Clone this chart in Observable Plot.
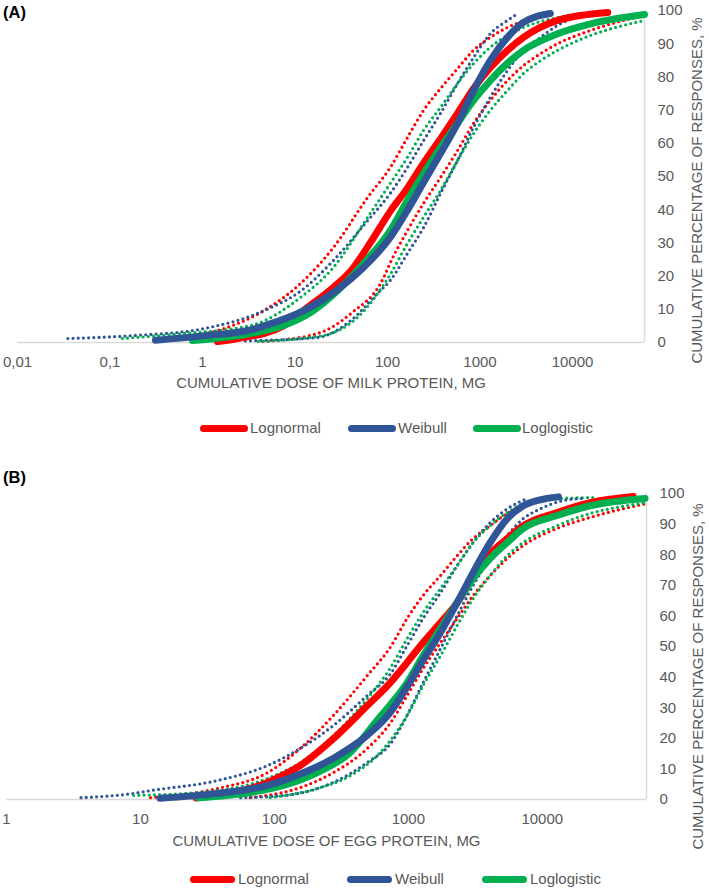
<!DOCTYPE html>
<html><head><meta charset="utf-8">
<script src="https://cdn.jsdelivr.net/npm/d3@7"></script>
<script src="https://cdn.jsdelivr.net/npm/@observablehq/plot@0.6"></script>
<style>
body{margin:0;background:#fff;font-family:"Liberation Sans",Arial,sans-serif;}
#wrap{position:relative;width:709px;height:891px;overflow:hidden;background:#fff;}
#wrap svg{position:absolute;left:0;}
.panel{position:absolute;left:3px;font-weight:bold;font-size:16.5px;line-height:16px;color:#000;}
.sw{position:absolute;height:7px;border-radius:3.5px;}
.lt{position:absolute;font-size:15px;line-height:16px;color:#595959;white-space:nowrap;}
</style></head><body><div id="wrap"></div>
<script>
// ---------- data (dose in mg, cumulative % of responses) ----------
const seriesNames = ["Lognormal", "Weibull", "Loglogistic"];
const seriesColors = ["#FF0000", "#2F5597", "#00B050"];
const yTicks = [0, 10, 20, 30, 40, 50, 60, 70, 80, 90, 100];
const yTitle = "CUMULATIVE PERCENTAGE OF RESPONSES, %";
const X_MAX = 60000;

// Panel A: milk
const milkTitle = "CUMULATIVE DOSE OF MILK PROTEIN, MG";
const milkTicks = [0.01, 0.1, 1, 10, 100, 1000, 10000];
const milkTickLabels = ["0,01", "0,1", "1", "10", "100", "1000", "10000"];
const milkLogn = [[1.45,0.3],[2.4,1.2],[7.5,5],[13.6,10.5],[26,16.6],[40,21.5],[65,30],[107,39.5],[164,46.5],[245,54],[374,61.4],[571,69],[851,76.5],[1290,82.8],[1980,88],[2950,91.9],[6900,97],[24000,99.4]];
const milkLognLo = [[4.5,0.3],[17.5,2.7],[40,8.7],[91,19.6],[107,24],[164,33.7],[245,41.9],[374,49.7],[571,57.8],[851,66],[1290,72.9],[1980,78.9],[2950,83.4],[4500,87],[6900,90],[15700,94],[35500,97],[60000,98.5]];
const milkLognHi = [[0.42,1.2],[1.45,3.6],[5,10.2],[11.5,17.8],[26,28.6],[61,43.7],[107,52.7],[164,61.7],[245,69.9],[374,76.5],[571,82.5],[851,88],[1290,91.9],[1980,94.9],[3800,97.9]];
const milkWeib = [[0.31,0.7],[1,2],[3.3,3.8],[5,5.3],[12.4,9.6],[29,16],[55,22.6],[107,31.6],[164,39.8],[245,48.2],[374,56.9],[571,66],[851,75.9],[1290,84.9],[1980,91.9],[2950,96.4],[5750,99.1]];
const milkWeibLo = [[2.9,0.5],[17.5,1.5],[40,6.6],[78,14.8],[107,18.7],[164,26.8],[245,34.6],[374,44.9],[571,54.8],[851,64.8],[1290,73.8],[1980,81.9],[2950,88],[4500,91.9],[6900,95.5],[12300,98.5]];
const milkWeibHi = [[0.035,1.2],[0.18,2.1],[0.95,4],[5,10],[11.5,15.5],[26,24.7],[61,36.7],[107,44.9],[164,52.7],[245,60.8],[374,69],[571,78],[851,85.8],[1290,93],[1980,97],[2540,99]];
const milkLogl = [[0.78,0.6],[3.3,2.7],[7.5,5.1],[14.7,9],[29,15.7],[55,23.8],[107,33.7],[164,42.8],[245,50.9],[374,58.7],[571,66],[851,72.9],[1290,78.9],[2950,88],[6900,93],[15700,96],[60000,98.8]];
const milkLoglLo = [[4,0.3],[20,2.1],[47,7.5],[107,20.5],[164,29.8],[245,37.7],[374,45.8],[571,54.8],[851,62.9],[1290,69.9],[1980,75.9],[2950,81],[4500,84.9],[6900,88],[15700,92.5],[35500,95.5],[60000,97]];
const milkLoglHi = [[0.136,1.2],[0.62,2.7],[3.3,5.1],[11.5,13.6],[26,22.6],[61,37.7],[107,47.9],[164,55.7],[245,63.9],[374,70.8],[571,78],[851,84],[1290,88.9],[2950,94.9],[6900,97.9],[11300,99]];

// Panel B: egg
const eggTitle = "CUMULATIVE DOSE OF EGG PROTEIN, MG";
const eggTicks = [1, 10, 100, 1000, 10000];
const eggTickLabels = ["1", "10", "100", "1000", "10000"];
const eggLogn = [[26,0.5],[89,5.6],[156,11.1],[276,19.9],[494,30.7],[734,38.2],[980,44.8],[1290,51.3],[1740,57.8],[2320,64.4],[3050,72.5],[4090,80.3],[5480,85.3],[7220,89.5],[12900,93.8],[22800,97],[47800,99]];
const eggLognLo = [[66,0.6],[156,3.9],[276,8.8],[494,16.7],[734,25],[980,34],[1290,42.8],[1740,51.3],[2320,59.2],[3050,66.7],[4090,73.2],[5480,78.8],[7220,83],[12900,88.6],[22800,92.2],[40000,95],[60000,96.7]];
const eggLognHi = [[11.9,0.6],[37.6,3.6],[89,8.8],[156,16.7],[276,27.5],[494,40.5],[734,49.8],[980,59.2],[1290,66.7],[1740,73.2],[2320,79.7],[3050,85.3],[4090,89.5],[5480,93.5],[7220,96],[9200,97.7]];
const eggWeib = [[14,0.4],[37.6,2],[89,4.6],[156,8.3],[276,13.5],[494,21],[734,28.5],[980,36.8],[1290,45.5],[1740,54.6],[2320,64.4],[3050,74.2],[4090,84],[5480,91.8],[7220,96],[10900,98.4],[13200,98.9]];
const eggWeibLo = [[56,0.6],[117,1.3],[276,5.6],[494,12.1],[734,18.2],[980,27.5],[1290,38.2],[1740,49.3],[2320,60.1],[3050,70],[4090,78.8],[5480,86.3],[7220,91.8],[9670,95],[14400,97.7],[20200,98.4]];
const eggWeibHi = [[3.6,0.6],[8.9,2],[11.9,2.9],[37.6,6.2],[89,11.1],[156,16.7],[276,24.2],[494,34],[734,41],[980,50.3],[1290,59.2],[1740,67.6],[2320,76.5],[3050,84],[4090,90.5],[5480,95],[7700,98.4]];
const eggLogl = [[27,0.6],[66,2.3],[117,4.6],[209,8.8],[369,15.4],[588,26],[734,31],[980,38.2],[1290,47],[1740,55.9],[2320,64.4],[3050,72.2],[4090,78.8],[5480,84],[7220,88.6],[12900,92.8],[22800,96],[58500,98.4]];
const eggLoglLo = [[93,0.6],[209,3.6],[369,7.8],[588,14.4],[734,19.3],[980,27.5],[1290,37.3],[1740,47],[2320,56.9],[3050,65.7],[4090,73.2],[5480,79.7],[7220,84],[12900,89.5],[22800,93.5],[40000,95.8],[58500,97]];
const eggLoglHi = [[8.9,1.3],[37.6,2.9],[89,6.9],[156,12.1],[276,20.9],[494,33],[734,43],[980,52.6],[1290,61.1],[1740,69],[2320,76.5],[3050,84],[4090,89.5],[5480,93.8],[7220,96.7],[9670,97.7],[12900,98.3],[25700,98.7]];

// ---------- drawing ----------
const FONT = '"Liberation Sans", Arial, sans-serif';
const GREY = "#595959";
const wrap = document.getElementById("wrap");

function makePanel(cfg) {
  const labelMap = new Map(cfg.ticks.map((t, i) => [t, cfg.tickLabels[i]]));
  const dotted = (data, color) => Plot.line(data, {
    x: d => d[0], y: d => d[1], stroke: color, strokeWidth: 3.2,
    strokeDasharray: "0 5.2", strokeLinecap: "round", curve: "monotone-x"
  });
  const solid = (data, color) => Plot.line(data, {
    x: d => d[0], y: d => d[1], stroke: color, strokeWidth: 7,
    strokeLinecap: "round", strokeLinejoin: "round", curve: "monotone-x"
  });
  const [lo, hi, main] = cfg.series;
  const svg = Plot.plot({
    width: 709, height: cfg.height,
    marginTop: cfg.marginTop, marginBottom: cfg.marginBottom,
    marginLeft: cfg.marginLeft, marginRight: cfg.marginRight,
    style: {fontFamily: FONT, fontSize: "15px", color: GREY, background: "transparent", overflow: "visible"},
    x: {type: "log", domain: [cfg.xMin, X_MAX]},
    y: {domain: [0, 100]},
    marks: [
      Plot.ruleY([0], {stroke: "#D9D9D9", strokeWidth: 1.5}),
      Plot.ruleX([X_MAX], {stroke: "#D9D9D9", strokeWidth: 1.5}),
      Plot.axisX({ticks: cfg.ticks, tickFormat: d => labelMap.get(d), tickSize: 0, tickPadding: 14, label: null, fill: GREY}),
      Plot.axisY({anchor: "right", ticks: yTicks, tickSize: 0, tickPadding: 13, label: null, fill: GREY}),
      ...hi.map((d, i) => dotted(d, seriesColors[i])),
      ...lo.map((d, i) => dotted(d, seriesColors[i])),
      solid(main[0], seriesColors[0]),
      solid(main[2], seriesColors[2]),
      solid(main[1], seriesColors[1]),
      Plot.text([cfg.xTitle], {frameAnchor: "bottom", dy: cfg.xTitleDy, lineAnchor: "middle", textAnchor: "middle", fill: GREY}),
      Plot.text([yTitle], {frameAnchor: "right", rotate: -90, dx: cfg.yTitleDx, dy: cfg.yTitleDy, textAnchor: "middle", lineAnchor: "middle", fill: GREY})
    ]
  });
  svg.style.top = cfg.top + "px";
  wrap.appendChild(svg);
}

function addLabel(text, top) {
  const d = document.createElement("div");
  d.className = "panel"; d.textContent = text; d.style.top = top + "px";
  wrap.appendChild(d);
}

function addLegend(cy, swX, swW, txX) {
  seriesNames.forEach((name, i) => {
    const s = document.createElement("div");
    s.className = "sw";
    s.style.left = swX[i] + "px"; s.style.width = swW + "px";
    s.style.top = (cy - 3.5) + "px"; s.style.background = seriesColors[i];
    wrap.appendChild(s);
    const t = document.createElement("div");
    t.className = "lt"; t.textContent = name;
    t.style.left = txX[i] + "px"; t.style.top = (cy - 8.5) + "px";
    wrap.appendChild(t);
  });
}

addLabel("(A)", 3.5);
makePanel({
  top: 0, height: 400, marginTop: 10, marginBottom: 58, marginLeft: 17, marginRight: 65,
  xMin: 0.01, ticks: milkTicks, tickLabels: milkTickLabels, xTitle: milkTitle,
  xTitleDy: 41, yTitleDx: 53, yTitleDy: 14,
  series: [[milkLognLo, milkWeibLo, milkLoglLo], [milkLognHi, milkWeibHi, milkLoglHi], [milkLogn, milkWeib, milkLogl]]
});
addLegend(428, [200, 348, 473], 48, [250, 398, 522]);

addLabel("(B)", 469);
makePanel({
  top: 483, height: 370, marginTop: 10, marginBottom: 54, marginLeft: 6, marginRight: 63,
  xMin: 1, ticks: eggTicks, tickLabels: eggTickLabels, xTitle: eggTitle,
  xTitleDy: 41.5, yTitleDx: 52, yTitleDy: 30,
  series: [[eggLognLo, eggWeibLo, eggLoglLo], [eggLognHi, eggWeibHi, eggLoglHi], [eggLogn, eggWeib, eggLogl]]
});
addLegend(879, [190, 347, 482], 45, [238, 395, 530]);
</script></body></html>
